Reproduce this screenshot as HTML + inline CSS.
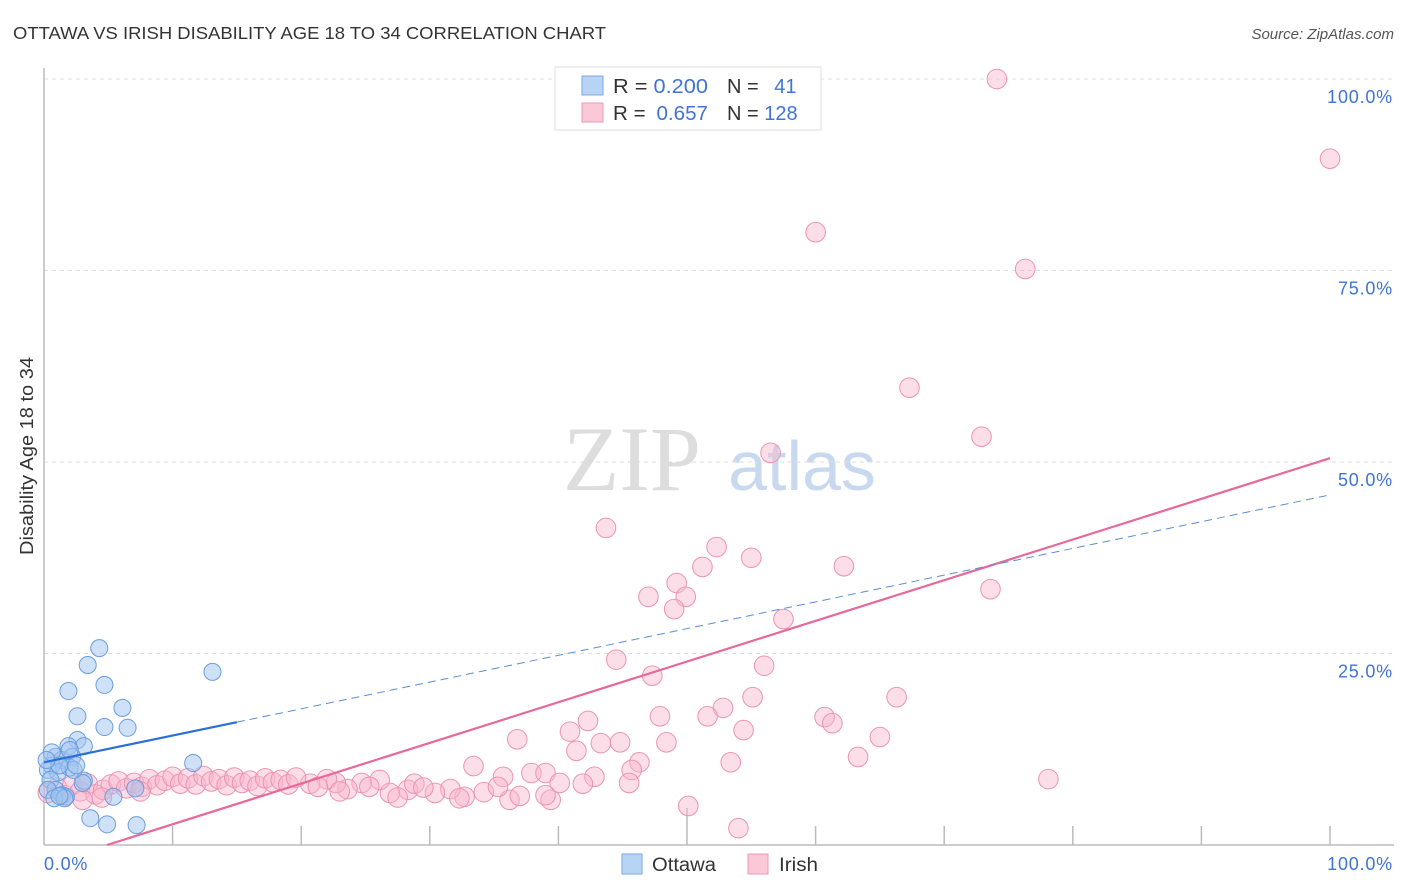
<!DOCTYPE html>
<html><head><meta charset="utf-8"><style>
body{margin:0;background:#fff;font-family:"Liberation Sans",sans-serif;}
svg{display:block}
</style></head><body>
<svg id="chart" width="1406" height="892">
<text x="13" y="39" font-size="17.5" fill="#333" textLength="593" lengthAdjust="spacingAndGlyphs">OTTAWA VS IRISH DISABILITY AGE 18 TO 34 CORRELATION CHART</text>
<text x="1394" y="39" font-size="15" fill="#555" font-style="italic" text-anchor="end">Source: ZipAtlas.com</text>
<text transform="translate(33,456) rotate(-90)" font-size="18" fill="#333" text-anchor="middle" textLength="198" lengthAdjust="spacingAndGlyphs">Disability Age 18 to 34</text>
<g>
<text x="632" y="490" font-size="92" fill="#ddd" font-family="Liberation Serif,serif" text-anchor="middle">ZIP</text>
<text x="802" y="490" font-size="70" fill="#c8d9ef" text-anchor="middle">atlas</text>
</g>
<g id="grid"></g><g id="axes"></g><g id="marks"></g><g id="lines"></g>
<g>
<rect x="555" y="67" width="266" height="63" fill="#fff" stroke="#ddd"/>
<rect x="582" y="76" width="21" height="19" fill="#b8d4f5" stroke="#7aa8e6"/>
<rect x="582" y="103" width="21" height="19" fill="#fbc8d7" stroke="#ee9ab4"/>
<text x="613" y="93" font-size="20" fill="#333" textLength="95" lengthAdjust="spacingAndGlyphs">R = <tspan fill="#3f74d6">0.200</tspan></text>
<text x="727" y="93" font-size="20" fill="#333">N = <tspan fill="#3f74d6" dx="10">41</tspan></text>
<text x="613" y="120" font-size="20" fill="#333" textLength="95" lengthAdjust="spacingAndGlyphs">R = <tspan fill="#3f74d6" dx="5">0.657</tspan></text>
<text x="727" y="120" font-size="20" fill="#333">N = <tspan fill="#3f74d6">128</tspan></text>
</g>
<g>
<rect x="622" y="854" width="20" height="20" fill="#b8d4f5" stroke="#7aa8e6"/>
<text x="652" y="871" font-size="19" fill="#333" textLength="64" lengthAdjust="spacingAndGlyphs">Ottawa</text>
<rect x="748" y="854" width="20" height="20" fill="#fbc8d7" stroke="#ee9ab4"/>
<text x="779" y="871" font-size="19" fill="#333" textLength="39" lengthAdjust="spacingAndGlyphs">Irish</text>
</g>
</svg>
<script>
const yTicks=[25,50,75,100];
const yTickLabels=["25.0%","50.0%","75.0%","100.0%"];
const ottawaX=[4.3,3.4,13.1,1.9,4.7,6.1,2.6,4.7,6.5,11.6,2.6,3.1,1.9,0.9,1.4,2.2,0.6,0.3,1.1,2.0,0.5,0.9,3.1,0.3,1.4,1.7,5.4,3.6,4.9,7.2,7.1,3.0,2.3,0.6,1.2,2.5,0.8,0.2,2.0,1.6,1.2];
const ottawaY=[25.7,23.5,22.6,20.1,20.9,17.9,16.8,15.4,15.3,10.7,13.7,12.9,12.9,11.5,11.1,11.5,10.4,9.8,9.5,10.1,8.5,7.2,8.4,7.2,6.5,6.3,6.3,3.5,2.7,2.6,7.4,8.1,9.8,12.1,10.4,10.4,6.1,11.1,12.4,6.1,6.4];
const irishX=[74.1,100,60.0,76.3,67.3,72.9,56.5,43.7,52.3,55.0,62.2,51.2,49.2,47.0,49.9,49.0,73.6,57.5,44.5,56.0,47.3,55.1,66.3,52.8,47.9,51.6,60.7,61.3,54.4,65.0,36.8,40.9,42.3,43.3,44.8,48.4,41.4,63.3,53.4,46.3,45.7,33.4,35.7,37.9,39.0,78.1,40.1,42.8,45.5,41.9,50.1,54.0,36.2,39.4,32.7,34.2,37.0,39.0,35.3,31.6,32.3,28.3,28.8,30.4,26.9,26.1,24.7,23.6,22.7,22.0,20.7,
0.3,1,1.6,2.2,2.8,3.4,4,4.6,5.2,5.8,6.4,7,7.6,8.2,8.8,9.4,10,10.6,11.2,11.8,12.4,13,13.6,14.2,14.8,15.4,16,16.6,17.2,17.8,18.4,19,19.6,3.0,4.5,7.5,21.3,23.0,25.3,27.5,29.5];
const irishY=[100,89.6,80.0,75.2,59.7,53.3,51.2,41.4,38.9,37.5,36.4,36.3,34.2,32.4,32.4,30.8,33.4,29.5,24.2,23.4,22.1,19.3,19.3,17.9,16.8,16.8,16.7,15.9,15.0,14.1,13.8,14.8,16.2,13.3,13.4,13.4,12.3,11.5,10.8,10.8,9.8,10.3,8.9,9.4,9.4,8.6,8.1,8.9,8.1,8.0,5.1,2.2,5.9,5.9,6.3,6.9,6.4,6.5,7.6,7.3,6.1,7.2,8.0,6.8,6.8,8.5,8.1,7.3,8.1,8.6,8.0,
6.8,7.5,6.5,7.8,7.0,8.0,6.6,7.2,7.9,8.3,7.4,8.1,7.6,8.6,7.8,8.4,8.9,8.0,8.7,7.9,9.0,8.3,8.6,7.8,8.8,8.1,8.4,7.7,8.7,8.2,8.5,7.9,8.8,5.9,6.2,7.0,7.6,7.0,7.6,6.2,7.5];
const ottawaTrend=[10.8,45.7];
const irishTrend=[-2.6,50.5];
const NS='http://www.w3.org/2000/svg';
const X0=44,X1=1330,Y0=845,Y1=79;
const sx=v=>X0+(X1-X0)*v/100, sy=v=>Y0-(Y0-Y1)*v/100;
function mk(t,a,p){const e=document.createElementNS(NS,t);for(const k in a)e.setAttribute(k,a[k]);p.appendChild(e);return e;}
const grid=document.getElementById('grid'),axes=document.getElementById('axes'),marks=document.getElementById('marks'),lines=document.getElementById('lines');
yTicks.forEach((t,i)=>{
 const g=mk('line',{x1:X0,x2:1394,y1:sy(t),y2:sy(t),stroke:'#ddd','stroke-dasharray':'4,4'},grid);
 
 
 const l=mk('text',{x:1393,y:sy(t)+24,'font-size':18,fill:'#3f74d6','text-anchor':'end','letter-spacing':'0.8'},axes);
 l.textContent=yTickLabels[i];
 
 
});
const ya=mk('line',{x1:X0,x2:X0,y1:68,y2:Y0,stroke:'#bbb','stroke-width':1.5},axes);


const xa=mk('line',{x1:X0,x2:1394,y1:Y0,y2:Y0,stroke:'#bbb','stroke-width':1.5},axes);


for(let i=1;i<=10;i++){
 const tk=mk('line',{x1:sx(i*10),x2:sx(i*10),y1:Y0,y2:i==5?808:826,stroke:'#bbb','stroke-width':1.5},axes);
 
 
}
const xl0=mk('text',{x:44,y:870,'font-size':18,fill:'#3f74d6','letter-spacing':'0.8'},axes);xl0.textContent='0.0%';


const xl1=mk('text',{x:1393,y:870,'font-size':18,fill:'#3f74d6','text-anchor':'end','letter-spacing':'0.8'},axes);xl1.textContent='100.0%';


irishX.forEach((x,i)=>{
 const c=mk('circle',{cx:sx(x),cy:sy(irishY[i]),r:9.8,fill:'rgba(248,182,204,0.45)',stroke:'#ec93b0','stroke-width':1},marks);
 
 
});
ottawaX.forEach((x,i)=>{
 const c=mk('circle',{cx:sx(x),cy:sy(ottawaY[i]),r:8.5,fill:'rgba(160,196,240,0.5)',stroke:'#6a9de0','stroke-width':1},marks);
 
 
});
const sIr=(irishTrend[1]-irishTrend[0])/100;
const ixs=-irishTrend[0]/sIr;
const pl=mk('line',{x1:sx(ixs),y1:sy(0),x2:sx(100),y2:sy(irishTrend[1]),stroke:'#e8689a','stroke-width':2.2},lines);


const ov=x=>ottawaTrend[0]+(ottawaTrend[1]-ottawaTrend[0])*x/100;
const bl=mk('line',{x1:sx(0),y1:sy(ov(0)),x2:sx(15),y2:sy(ov(15)),stroke:'#2a70d8','stroke-width':2.2},lines);


const bd=mk('line',{x1:sx(15),y1:sy(ov(15)),x2:sx(100),y2:sy(ov(100)),stroke:'#5a8fd8','stroke-width':1,'stroke-dasharray':'8,5'},lines);


</script>
</body></html>
